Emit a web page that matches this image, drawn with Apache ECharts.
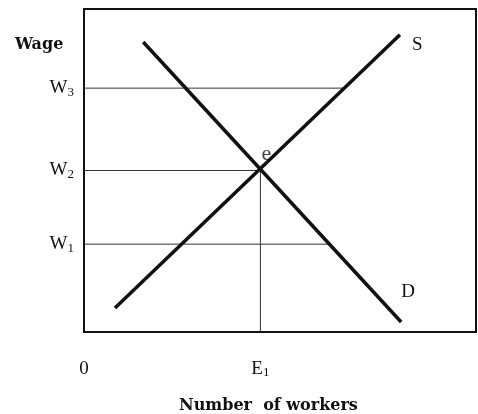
<!DOCTYPE html>
<html>
<head>
<meta charset="utf-8">
<script src="https://cdn.jsdelivr.net/npm/echarts@6/dist/echarts.min.js"></script>
<style>
html,body{margin:0;padding:0;background:#fff;}
#chart{width:478px;height:414px;}
</style>
</head>
<body>
<div id="chart"></div>
<script>
// 供给与需求曲线（劳动力市场）
const supplyLine = [[7.9, 7.4], [80.6, 92.0]]
const demandLine = [[15.1, 89.8], [80.9, 3.1]]
const equilibrium = [45, 50]
const wageLevels = [27.2, 50, 75.5]
const wageLabels = ['{m|W}{s|1}', '{m|W}{s|2}', '{m|W}{s|3}']
// 每条工资线在何处止于曲线
const wageEnds = [62.8, 45, 66.8]
const xTicks = [0, 45]
const xTickLabels = ['{m|0}', '{m|E}{s|1}']

const serif = '"Liberation Serif", "DejaVu Serif", serif'
const boldSerif = '"DejaVu Serif", serif'
const ink = '#111'

const subRich = {
    m: {fontFamily: serif, fontSize: 19, color: ink, lineHeight: 22},
    s: {fontFamily: serif, fontSize: 13, color: ink, lineHeight: 22, padding: [8, 0, 0, 0]}
}

function guideSeries(points){
    return {
        type: 'line',
        data: points,
        symbol: 'none',
        silent: true,
        lineStyle: {color: '#333', width: 1},
        animation: false
    }
}

let series = []
for(let i=0;i<wageLevels.length;i++)
    series.push(guideSeries([[0, wageLevels[i]], [wageEnds[i], wageLevels[i]]]))
series.push(guideSeries([[equilibrium[0], 0], equilibrium]))

series.push({
    name: 'S',
    type: 'line',
    symbol: 'none',
    lineStyle: {color: ink, width: 3.5},
    data: supplyLine,
    endLabel: {show: true, formatter: 'S', fontFamily: serif, fontSize: 19, color: ink, offset: [4, 10]},
    animation: false
})
series.push({
    name: 'D',
    type: 'line',
    symbol: 'none',
    lineStyle: {color: ink, width: 3.5},
    data: demandLine,
    endLabel: {show: true, formatter: 'D', fontFamily: serif, fontSize: 19, color: ink, offset: [-8, -30]},
    animation: false
})
series.push({
    type: 'scatter',
    symbolSize: 0,
    data: [equilibrium],
    label: {show: true, position: 'top', formatter: 'e', fontFamily: serif, fontSize: 22, color: ink, offset: [6, 0]},
    animation: false
})

let option = {
    title: [
        {text: 'Wage', left: 10, top: 32, textStyle: {fontFamily: boldSerif, fontSize: 16, fontWeight: 'bold', color: ink}},
        {text: 'Number  of workers', left: 174, top: 393, textStyle: {fontFamily: boldSerif, fontSize: 16, fontWeight: 'bold', color: ink}}
    ],
    grid: {
        left: 84, top: 9, right: 2, bottom: 82,
        show: true, borderColor: ink, borderWidth: 2
    },
    xAxis: {
        type: 'value', min: 0, max: 100,
        splitLine: {show: false},
        axisLine: {show: false},
        axisTick: {show: false},
        axisLabel: {
            customValues: xTicks,
            formatter: v => xTickLabels[xTicks.indexOf(v)],
            margin: 26, align: 'center',
            rich: subRich
        }
    },
    yAxis: {
        type: 'value', min: 0, max: 100,
        splitLine: {show: false},
        axisLine: {show: false},
        axisTick: {show: false},
        axisLabel: {
            customValues: wageLevels,
            formatter: v => wageLabels[wageLevels.indexOf(v)],
            margin: 10,
            rich: subRich
        }
    },
    series: series
}

let chartDom = echarts.init(document.querySelector('#chart'))
chartDom.setOption(option)
</script>
</body>
</html>
